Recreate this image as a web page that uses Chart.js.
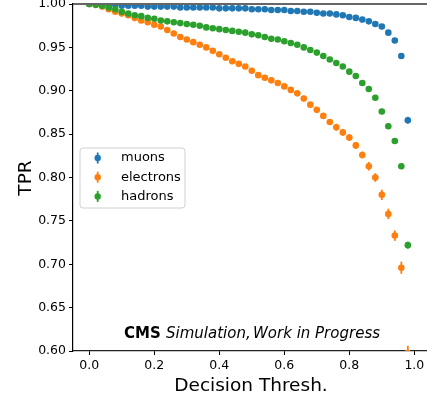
<!DOCTYPE html>
<html>
<head>
<meta charset="utf-8">
<script src="https://cdn.jsdelivr.net/npm/chart.js@4.4.1/dist/chart.umd.min.js"></script>
<style>
  body { margin: 0; background: #fff; }
</style>
</head>
<body>
<canvas id="myChart" width="427" height="400"></canvas>
<script>
// decision thresholds (x)
const thresholds = [0.00,0.02,0.04,0.06,0.08,0.10,0.12,0.14,0.16,0.18,
  0.20,0.22,0.24,0.26,0.28,0.30,0.32,0.34,0.36,0.38,
  0.40,0.42,0.44,0.46,0.48,0.50,0.52,0.54,0.56,0.58,
  0.60,0.62,0.64,0.66,0.68,0.70,0.72,0.74,0.76,0.78,
  0.80,0.82,0.84,0.86,0.88,0.90,0.92,0.94,0.96,0.98];

const muonTPR = [1.000,1.000,0.999,0.999,0.999,0.998,0.998,0.998,0.998,0.997,
  0.997,0.997,0.997,0.997,0.996,0.996,0.996,0.996,0.996,0.996,
  0.995,0.995,0.995,0.995,0.995,0.994,0.994,0.994,0.993,0.993,
  0.993,0.992,0.992,0.991,0.991,0.990,0.989,0.989,0.988,0.987,
  0.985,0.984,0.982,0.980,0.977,0.974,0.967,0.958,0.940,0.866];
const muonErr = [0.001,0.001,0.001,0.001,0.001,0.001,0.001,0.001,0.001,0.001,
  0.001,0.001,0.001,0.001,0.001,0.001,0.001,0.001,0.001,0.001,
  0.001,0.001,0.001,0.001,0.001,0.001,0.001,0.001,0.001,0.001,
  0.001,0.001,0.001,0.001,0.001,0.001,0.001,0.001,0.001,0.001,
  0.001,0.001,0.001,0.001,0.002,0.002,0.002,0.002,0.003,0.004];

const electronTPR = [1.000,0.999,0.997,0.994,0.991,0.989,0.987,0.984,0.981,0.979,
  0.976,0.974,0.970,0.966,0.962,0.959,0.956,0.953,0.950,0.946,
  0.942,0.938,0.934,0.931,0.928,0.923,0.918,0.915,0.912,0.909,
  0.905,0.901,0.897,0.891,0.884,0.878,0.871,0.864,0.858,0.852,
  0.846,0.837,0.826,0.813,0.800,0.780,0.758,0.733,0.696,0.598];
const electronErr = [0.001,0.001,0.001,0.001,0.001,0.001,0.001,0.002,0.002,0.002,
  0.002,0.002,0.002,0.002,0.002,0.002,0.002,0.002,0.002,0.002,
  0.002,0.002,0.002,0.002,0.002,0.002,0.002,0.003,0.003,0.003,
  0.003,0.003,0.003,0.003,0.003,0.003,0.003,0.003,0.004,0.004,
  0.004,0.004,0.004,0.005,0.005,0.006,0.006,0.006,0.007,0.008];

const hadronTPR = [1.000,0.999,0.998,0.996,0.994,0.991,0.989,0.987,0.986,0.984,
  0.983,0.981,0.980,0.979,0.978,0.977,0.976,0.975,0.973,0.972,
  0.971,0.970,0.969,0.968,0.967,0.965,0.964,0.962,0.960,0.959,
  0.957,0.955,0.953,0.950,0.947,0.944,0.940,0.936,0.932,0.928,
  0.922,0.917,0.909,0.902,0.892,0.876,0.859,0.842,0.813,0.722];
const hadronErr = [0.001,0.001,0.001,0.001,0.001,0.001,0.001,0.001,0.001,0.001,
  0.001,0.001,0.001,0.001,0.001,0.001,0.001,0.001,0.001,0.001,
  0.001,0.001,0.001,0.001,0.001,0.001,0.001,0.001,0.001,0.001,
  0.001,0.001,0.001,0.001,0.001,0.001,0.001,0.001,0.001,0.002,
  0.002,0.002,0.002,0.002,0.002,0.003,0.003,0.003,0.003,0.004];

const seriesNames = ['muons', 'electrons', 'hadrons'];
const seriesColors = ['#1f77b4', '#ff7f0e', '#2ca02c'];
const xTicks = [0.0, 0.2, 0.4, 0.6, 0.8, 1.0];
const yTicks = [0.60, 0.65, 0.70, 0.75, 0.80, 0.85, 0.90, 0.95, 1.00];

const FONT = "'DejaVu Sans', sans-serif";

function points(vals, errs) {
  return thresholds.map((t, i) => ({x: t, y: vals[i], err: errs[i]}));
}

// vertical error bars, drawn through the scales
const errorBars = {
  id: 'errorBars',
  beforeDatasetsDraw(chart) {
    const ctx = chart.ctx;
    const xs = chart.scales.x, ys = chart.scales.y;
    const area = chart.chartArea;
    ctx.save();
    ctx.beginPath();
    ctx.rect(area.left, area.top, area.right - area.left, area.bottom - area.top);
    ctx.clip();
    chart.data.datasets.forEach(ds => {
      ctx.strokeStyle = ds.backgroundColor;
      ctx.lineWidth = 1.8;
      ds.data.forEach(p => {
        const px = xs.getPixelForValue(p.x);
        ctx.beginPath();
        ctx.moveTo(px, ys.getPixelForValue(p.y - p.err));
        ctx.lineTo(px, ys.getPixelForValue(p.y + p.err));
        ctx.stroke();
      });
    });
    ctx.restore();
  }
};

// legend box, axis titles, CMS label, top frame
const decorations = {
  id: 'decorations',
  afterDraw(chart) {
    const ctx = chart.ctx;
    const area = chart.chartArea;
    ctx.save();

    // top spine
    ctx.strokeStyle = '#666';
    ctx.lineWidth = 1.8;
    ctx.beginPath();
    ctx.moveTo(area.left, area.top);
    ctx.lineTo(area.right, area.top);
    ctx.stroke();

    // legend
    const lx = 80, ly = 148, lw = 105, lh = 60, r = 3;
    ctx.fillStyle = 'rgba(255,255,255,0.8)';
    ctx.strokeStyle = '#d0d0d0';
    ctx.lineWidth = 1;
    ctx.beginPath();
    ctx.moveTo(lx + r, ly);
    ctx.arcTo(lx + lw, ly, lx + lw, ly + lh, r);
    ctx.arcTo(lx + lw, ly + lh, lx, ly + lh, r);
    ctx.arcTo(lx, ly + lh, lx, ly, r);
    ctx.arcTo(lx, ly, lx + lw, ly, r);
    ctx.closePath();
    ctx.fill();
    ctx.stroke();

    ctx.font = '13px ' + FONT;
    ctx.textBaseline = 'middle';
    ctx.textAlign = 'left';
    chart.data.datasets.forEach((ds, i) => {
      const cy = 158 + i * 19.2;
      ctx.strokeStyle = ds.backgroundColor;
      ctx.lineWidth = 1.8;
      ctx.beginPath();
      ctx.moveTo(97.7, cy - 5.5);
      ctx.lineTo(97.7, cy + 5.5);
      ctx.stroke();
      ctx.fillStyle = ds.backgroundColor;
      ctx.beginPath();
      ctx.arc(97.7, cy, 3.2, 0, Math.PI * 2);
      ctx.fill();
      ctx.fillStyle = '#000';
      ctx.fillText(ds.label, 121, cy);
    });

    // axis titles
    ctx.fillStyle = '#000';
    ctx.font = '18.5px ' + FONT;
    ctx.textAlign = 'center';
    ctx.textBaseline = 'alphabetic';
    ctx.fillText('Decision Thresh.', 251, 391);
    ctx.save();
    ctx.translate(31, 178);
    ctx.rotate(-Math.PI / 2);
    ctx.fillText('TPR', 0, 0);
    ctx.restore();

    // CMS label
    ctx.textAlign = 'left';
    ctx.font = 'bold 15px ' + FONT;
    ctx.fillText('CMS', 124, 338);
    ctx.font = 'italic 15px ' + FONT;
    ctx.fillText('Simulation,', 166, 338);
    ctx.fillText('Work in Progress', 253, 338);

    ctx.restore();
  }
};

const tickFont = {family: FONT, size: 12.5};

const ctx = document.getElementById('myChart').getContext('2d');
const myChart = new Chart(ctx, {
  type: 'scatter',
  data: {
    datasets: [
      {label: seriesNames[0], data: points(muonTPR, muonErr), backgroundColor: seriesColors[0], order: 3},
      {label: seriesNames[1], data: points(electronTPR, electronErr), backgroundColor: seriesColors[1], order: 2},
      {label: seriesNames[2], data: points(hadronTPR, hadronErr), backgroundColor: seriesColors[2], order: 1}
    ]
  },
  options: {
    responsive: false,
    animation: false,
    layout: {autoPadding: false, padding: {top: 4, right: 0, left: 0, bottom: 0}},
    elements: {point: {radius: 3.3, borderWidth: 0, hoverRadius: 3.3}},
    plugins: {
      legend: {display: false},
      tooltip: {enabled: false}
    },
    scales: {
      x: {
        type: 'linear',
        min: -0.05,
        max: 1.039,
        afterBuildTicks: s => { s.ticks = xTicks.map(v => ({value: v})); },
        afterFit: s => { s.height = 49; s.paddingLeft = 0; s.paddingRight = 0; },
        grid: {drawOnChartArea: false, tickLength: 4, color: '#000', tickWidth: 1},
        border: {color: '#222', width: 1.2},
        ticks: {font: tickFont, color: '#000', padding: 3, maxRotation: 0, autoSkip: false,
          callback: v => v.toFixed(1)}
      },
      y: {
        min: 0.6,
        max: 1.0,
        afterBuildTicks: s => { s.ticks = yTicks.map(v => ({value: v})); },
        afterFit: s => { s.width = 73; s.paddingTop = 0; s.paddingBottom = 0; },
        grid: {drawOnChartArea: false, tickLength: 4, color: '#000', tickWidth: 1},
        border: {color: '#000', width: 1.2},
        ticks: {font: tickFont, color: '#000', padding: 3, autoSkip: false,
          callback: v => v.toFixed(2)}
      }
    }
  },
  plugins: [errorBars, decorations]
});
</script>
</body>
</html>
